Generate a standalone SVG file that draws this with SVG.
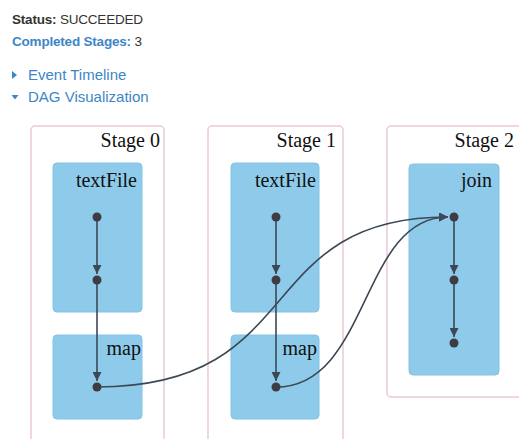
<svg xmlns="http://www.w3.org/2000/svg" width="519" height="439" viewBox="0 0 519 439">
<style>
.hdr{font-family:"Liberation Sans",Arial,sans-serif;font-size:13.5px;letter-spacing:-0.2px}
.nav{font-family:"Liberation Sans",Arial,sans-serif;font-size:15px;fill:#3d86c6}
.b{font-weight:bold}
.blue{fill:#3d86c6}
.dark{fill:#333}
.cl{fill:#fff;stroke:#ecc9d3;stroke-width:1.5}
.op{fill:#8ecbeb;stroke:#84c2e4;stroke-width:1}
.lbl{font-family:"Liberation Serif","Times New Roman",serif;font-size:20px;fill:#111;text-anchor:end}
.dot{fill:#3e3c42}
.e{fill:none;stroke:#3c4855;stroke-width:1.6}
</style>
<defs>
<marker id="ah" viewBox="0 0 10 10" refX="10" refY="5" markerWidth="9" markerHeight="9" markerUnits="userSpaceOnUse" orient="auto">
<path d="M0,0 L10,5 L0,10 z" fill="#3c4855"/>
</marker>
</defs>
<g id="header">
<text class="hdr" x="12" y="24"><tspan class="b dark">Status:</tspan><tspan class="dark"> SUCCEEDED</tspan></text>
<text class="hdr" x="12" y="46"><tspan class="b blue">Completed Stages:</tspan><tspan class="dark"> 3</tspan></text>
<path d="M12,71 L17,75 L12,79 z" fill="#3d86c6"/>
<text class="nav" x="28" y="80">Event Timeline</text>
<path d="M11.5,95 L18.5,95 L15,99.5 z" fill="#3d86c6"/>
<text class="nav" x="28" y="102">DAG Visualization</text>
</g>
<g id="stage0">
<rect class="cl" x="31" y="126" width="133" height="330" rx="4"/>
<text class="lbl" x="160" y="147">Stage 0</text>
</g>
<g id="stage1">
<rect class="cl" x="208" y="126" width="135" height="330" rx="4"/>
<text class="lbl" x="336" y="147">Stage 1</text>
</g>
<g id="stage2">
<rect class="cl" x="387" y="126" width="145" height="271" rx="4"/>
<text class="lbl" x="514" y="147">Stage 2</text>
</g>
<g id="s0-textFile">
<rect class="op" x="53" y="163" width="89" height="149" rx="4"/>
<text class="lbl" x="137" y="187">textFile</text>
</g>
<g id="s0-map">
<rect class="op" x="53" y="335" width="89" height="84" rx="4"/>
<text class="lbl" x="141" y="355">map</text>
</g>
<g id="s1-textFile">
<rect class="op" x="231" y="163" width="88" height="149" rx="4"/>
<text class="lbl" x="316" y="187">textFile</text>
</g>
<g id="s1-map">
<rect class="op" x="231" y="335" width="88" height="84" rx="4"/>
<text class="lbl" x="317" y="355">map</text>
</g>
<g id="s2-join">
<rect class="op" x="409" y="164" width="90" height="211" rx="4"/>
<text class="lbl" x="492" y="187">join</text>
</g>
<g id="connectors">
<path class="e" d="M97,217 L97,274" marker-end="url(#ah)"/>
<path class="e" d="M97,280 L97,381" marker-end="url(#ah)"/>
<path class="e" d="M276,217 L276,274" marker-end="url(#ah)"/>
<path class="e" d="M276,280 L276,381" marker-end="url(#ah)"/>
<path class="e" d="M454,217 L454,274" marker-end="url(#ah)"/>
<path class="e" d="M454,280 L454,337" marker-end="url(#ah)"/>
<path class="e" d="M97,387 C310,387 250,217 448,217" marker-end="url(#ah)"/>
<path class="e" d="M276,387 C370,387 360,217 448,217" marker-end="url(#ah)"/>
</g>
<g id="dots">
<circle class="dot" cx="97" cy="217" r="4.5"/>
<circle class="dot" cx="97" cy="280" r="4.5"/>
<circle class="dot" cx="97" cy="387" r="4.5"/>
<circle class="dot" cx="276" cy="217" r="4.5"/>
<circle class="dot" cx="276" cy="280" r="4.5"/>
<circle class="dot" cx="276" cy="387" r="4.5"/>
<circle class="dot" cx="454" cy="217" r="4.5"/>
<circle class="dot" cx="454" cy="280" r="4.5"/>
<circle class="dot" cx="454" cy="343" r="4.5"/>
</g>
</svg>
